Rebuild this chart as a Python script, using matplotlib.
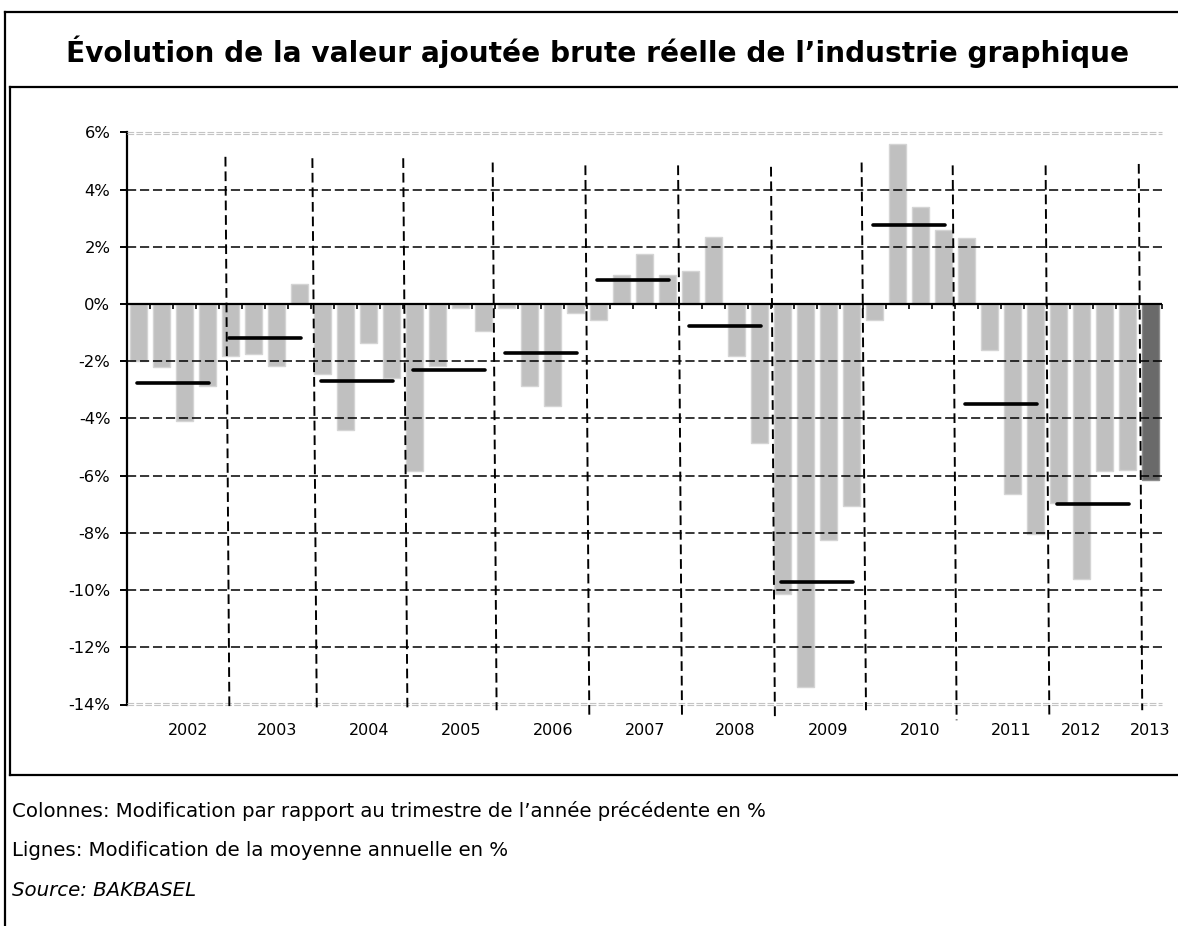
import matplotlib
matplotlib.use('Agg')
import matplotlib.pyplot as plt
import numpy as np
from matplotlib.lines import Line2D

# quarterly change vs same quarter of previous year, 2002Q1 .. 2013Q1
quarterly = [
    -2.0, -2.2, -4.1, -2.85,      # 2002
    -1.8, -1.75, -2.15, 0.7,      # 2003
    -2.45, -4.4, -1.35, -2.6,     # 2004
    -5.85, -2.15, -0.15, -0.95,   # 2005
    -0.15, -2.85, -3.55, -0.3,    # 2006
    -0.55, 1.0, 1.75, 1.0,        # 2007
    1.15, 2.35, -1.8, -4.85,      # 2008
    -10.15, -13.4, -8.25, -7.05,  # 2009
    -0.55, 5.6, 3.4, 2.6,         # 2010
    2.3, -1.6, -6.65, -8.05,      # 2011
    -6.95, -9.6, -5.85, -5.8,     # 2012
    -6.15,                        # 2013
]
annual = [-2.75, -1.2, -2.7, -2.3, -1.7, 0.83, -0.75, -9.7, 2.75, -3.5, -7.0]
years = ['2002', '2003', '2004', '2005', '2006', '2007', '2008', '2009',
         '2010', '2011', '2012', '2013']
yticks = [6, 4, 2, 0, -2, -4, -6, -8, -10, -12, -14]

# hand drawn year separators (x top, x bottom, y top, y bottom), in category units
sep_x_top = [4.28, 8.06, 12.01, 15.9, 19.93, 23.96, 28.0, 31.94, 35.9, 39.94, 43.99]
sep_x_bot = [4.45, 8.25, 12.19, 16.07, 20.1, 24.13, 28.17, 32.13, 36.07, 40.1, 44.14]
sep_y_top = [5.15, 5.1, 5.1, 4.95, 4.85, 4.85, 4.8, 4.95, 4.85, 4.85, 4.9]
sep_y_bot = [-14.1, -14.1, -14.1, -14.2, -14.4, -14.4, -14.55, -14.2, -14.55, -14.35, -14.2]
label_x = [2.65, 6.52, 10.51, 14.52, 18.52, 22.52, 26.43, 30.48, 34.5, 38.46, 41.47, 44.47]

W, H = 1178, 926
fig = plt.figure(figsize=(W / 100, H / 100), dpi=100)
plt.rcParams['font.family'] = ['DejaVu Sans']


def fx(px):
    return px / W


def fy(py):
    return 1 - py / H


# frame lines
for xs, ys in [((4.5, 4.5), (12, 926)), ((4.5, 1178), (12, 12)),
               ((9.5, 1178), (87, 87)), ((9.5, 9.5), (87, 775)),
               ((9.5, 1178), (775, 775))]:
    fig.add_artist(Line2D([fx(x) for x in xs], [fy(y) for y in ys],
                          color='black', lw=1.6, transform=fig.transFigure))

fig.text(fx(598), fy(52), 'Évolution de la valeur ajoutée brute réelle de l\u2019industrie graphique',
         ha='center', va='center', fontsize=20.2, fontweight='bold')

ax = fig.add_axes([fx(127), fy(704.5), fx(1162) - fx(127), fy(132.5) - fy(704.5)])
n = len(quarterly)
xpos = np.arange(n) + 0.5

bar_colors = ['#c0c0c0'] * (n - 1) + ['#6a6a6a']
bar_edges = ['#d4d4d4'] * (n - 1) + ['#8c8c8c']
ax.bar(xpos, quarterly, width=0.73, color=bar_colors, edgecolor=bar_edges, lw=1.0, zorder=2)

# gridlines
for v in yticks:
    if v in (6, -14):
        off = -0.05 if v == 6 else 0.05
        ax.axhline(v, color='#c4c4c4', lw=0.8, ls=(0, (6, 2)), zorder=3, clip_on=False)
        ax.axhline(v + off, color='#c4c4c4', lw=0.8, ls=(0, (6, 2)), zorder=3, clip_on=False)
    elif v != 0:
        ax.axhline(v, color='black', lw=1.1, ls=(0, (6, 2.5)), zorder=3)
ax.axhline(0, color='black', lw=1.6, zorder=4)

# year separators
for xt, xb, yt, yb in zip(sep_x_top, sep_x_bot, sep_y_top, sep_y_bot):
    ax.plot([xt, xb], [yt, yb], color='black', lw=1.4, ls=(0, (5, 2.5)),
            zorder=4, clip_on=False)

# annual averages
for k, v in enumerate(annual):
    ax.plot([4 * k + 0.45, 4 * k + 3.55], [v, v], color='black', lw=2.6,
            solid_capstyle='round', zorder=5)

for lx, yr in zip(label_x, years):
    ax.text(lx, -14.65, yr, ha='center', va='top', fontsize=11.5)

ax.set_xlim(0, n)
ax.set_ylim(-14, 6)
ax.set_yticks(yticks)
ax.set_yticklabels([f'{v}%' for v in yticks], fontsize=11.8)
ax.set_xticks(np.arange(0, n + 1))
ax.set_xticklabels([])
for s in ['top', 'right']:
    ax.spines[s].set_visible(False)
ax.spines['left'].set_linewidth(1.6)
ax.spines['bottom'].set_position(('data', 0))
ax.spines['bottom'].set_visible(False)
ax.tick_params(axis='y', length=5, width=1.4, pad=7)
ax.tick_params(axis='x', length=3.5, width=1.2, direction='out')
ax.patch.set_visible(False)

fig.text(fx(12), fy(811), 'Colonnes: Modification par rapport au trimestre de l\u2019année précédente en %',
         ha='left', va='center', fontsize=14.2)
fig.text(fx(12), fy(851), 'Lignes: Modification de la moyenne annuelle en %',
         ha='left', va='center', fontsize=14.2)
fig.text(fx(12), fy(891), 'Source: BAKBASEL', ha='left', va='center',
         fontsize=14.2, style='italic')

fig.savefig('out.png', dpi=100)
